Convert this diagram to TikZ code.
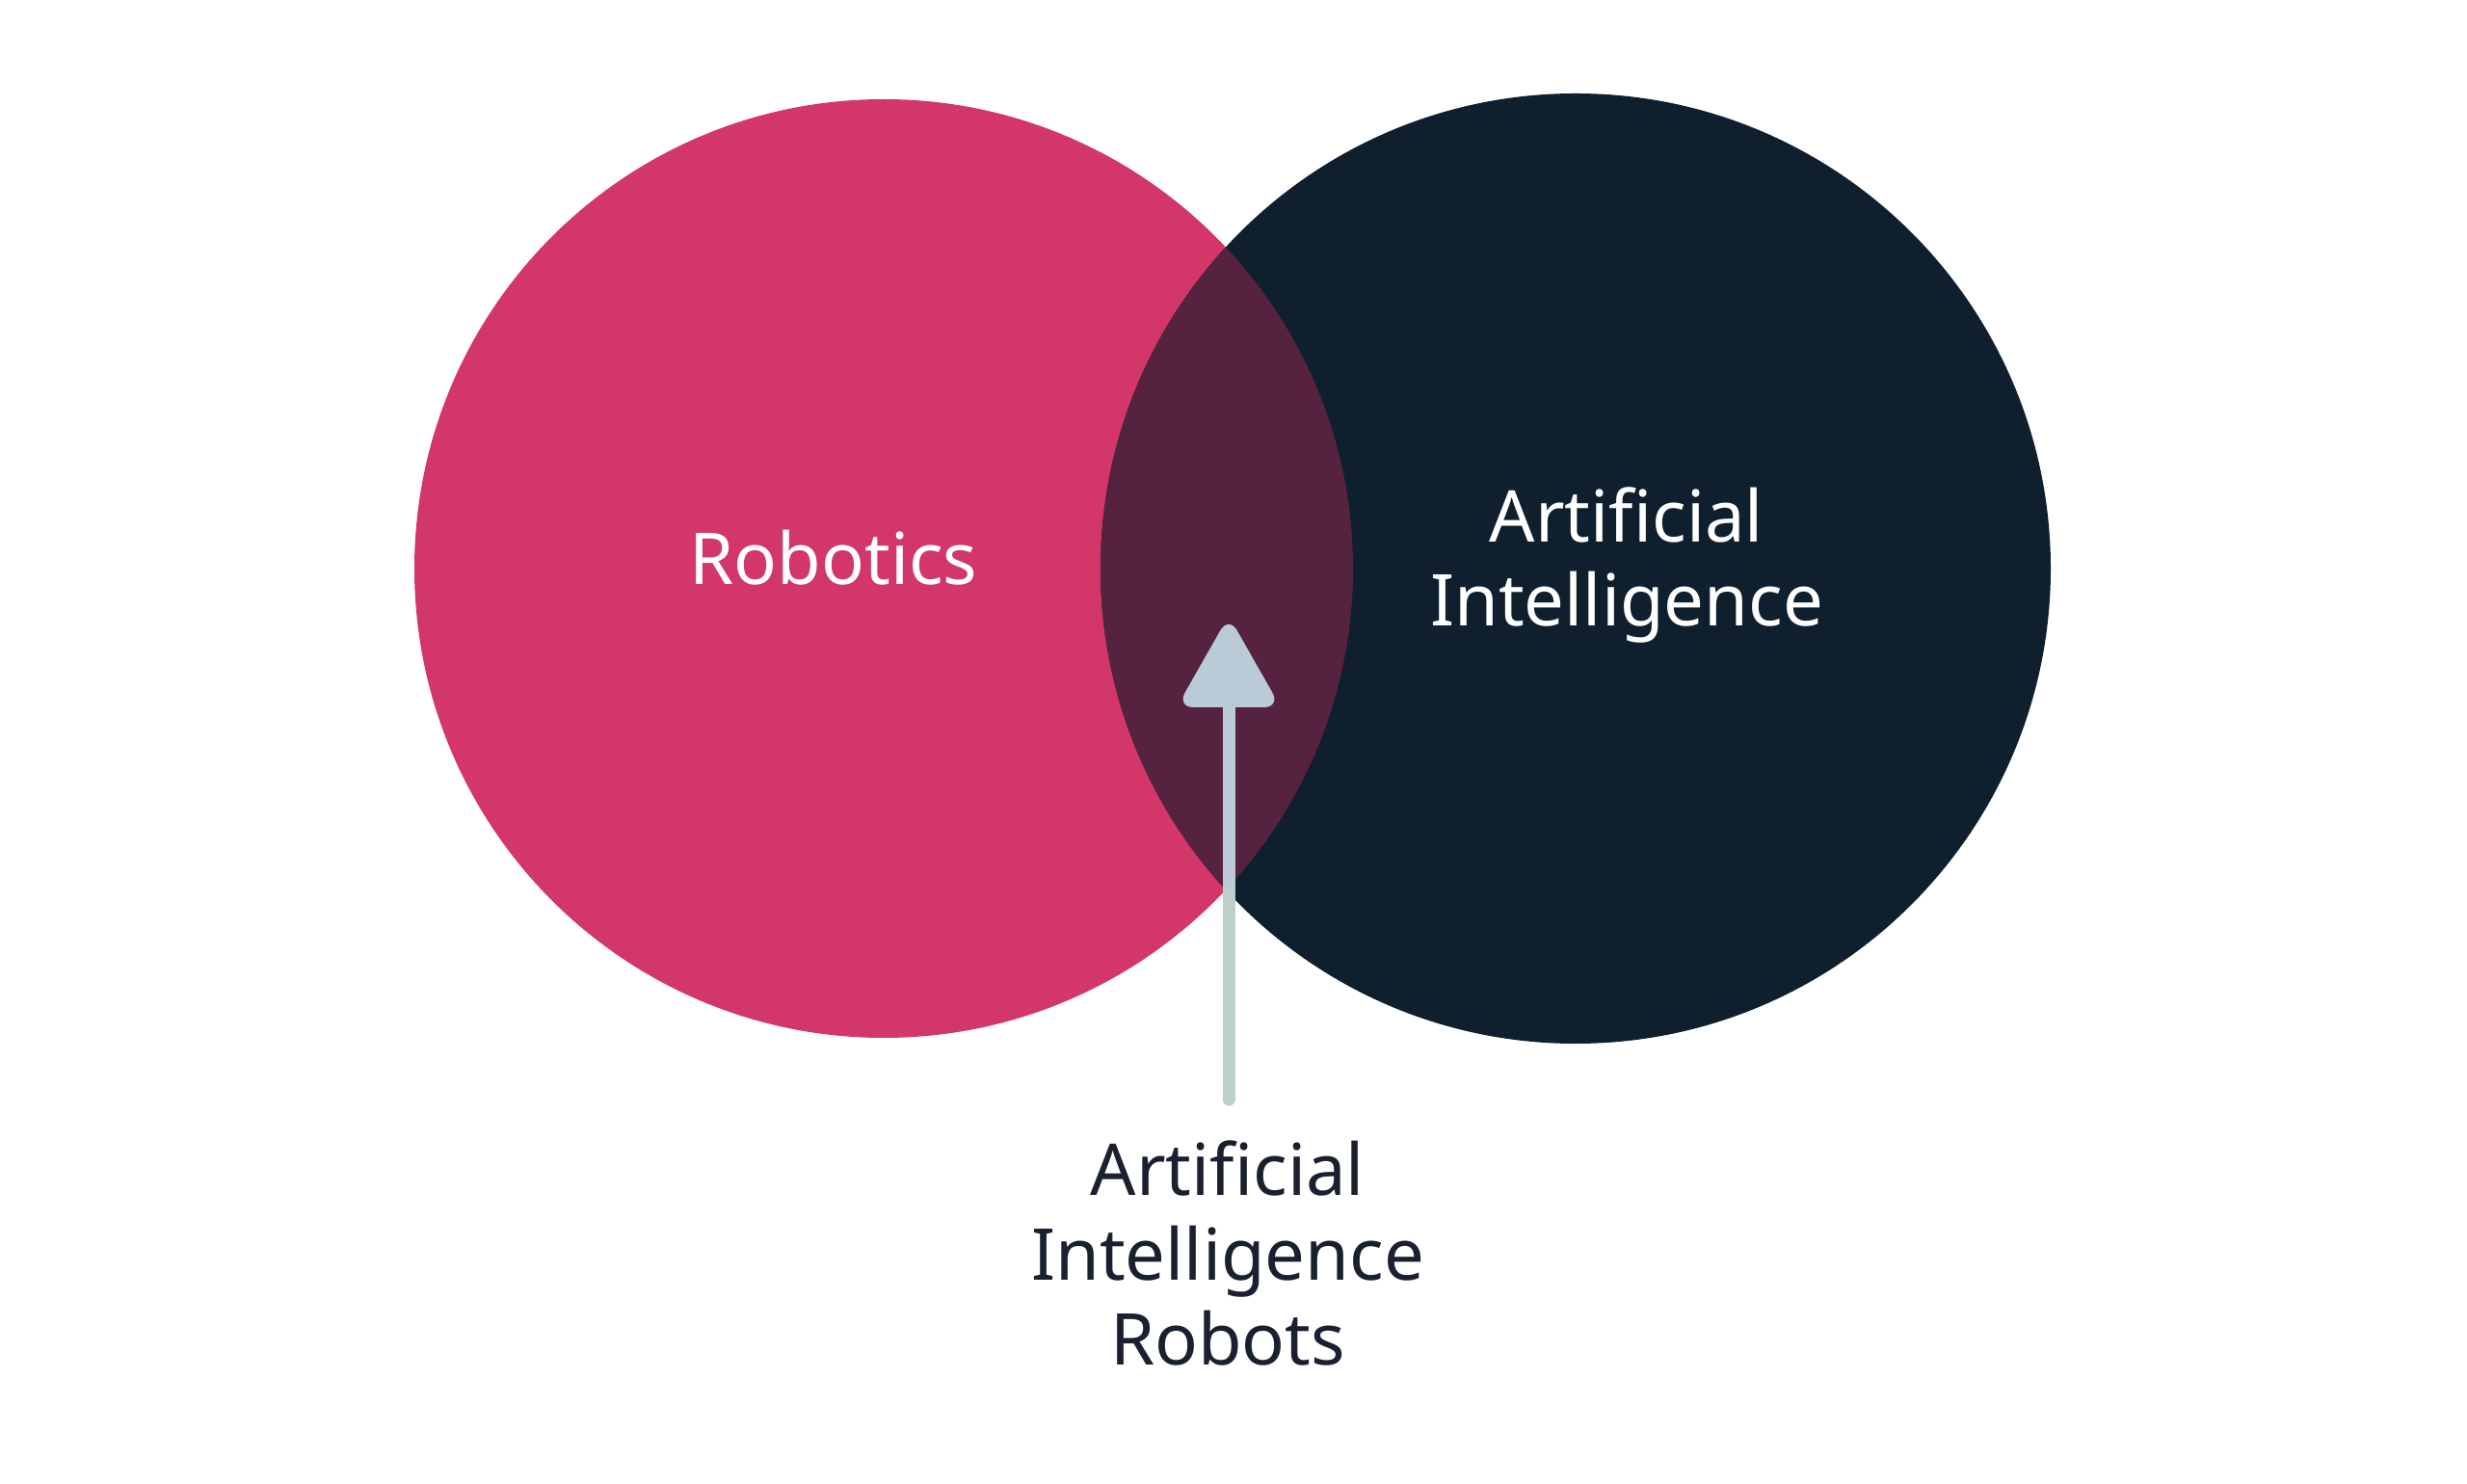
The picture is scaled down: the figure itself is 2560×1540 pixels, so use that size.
\documentclass[tikz,border=0pt]{standalone}
\usepackage{fontspec}
\setmainfont{Noto Sans}[Ligatures=CommonOff]
\definecolor{pinkc}{HTML}{D3376A}
\definecolor{navyc}{HTML}{0F1F2D}
\definecolor{overc}{HTML}{55233F}
\definecolor{arrowc}{HTML}{BACAD6}
\definecolor{linec}{HTML}{BCCFCA}
\definecolor{textdark}{HTML}{1B2030}
\tikzset{
  whitelbl/.style={text=white, inner sep=0pt, anchor=base, font=\fontsize{21.1pt}{25pt}\selectfont},
  darklbl/.style={text=textdark, inner sep=0pt, anchor=base, font=\fontsize{21.1pt}{25pt}\selectfont},
}
\begin{document}
\begin{tikzpicture}[x=0.01cm, y=-0.01cm]
\useasboundingbox (0,0) rectangle (2560,1540);
\fill[white] (0,0) rectangle (2560,1540);
% circles
\fill[pinkc] (917,590) circle[radius=487];
\fill[navyc] (1635,590) circle[radius=493];
\begin{scope}
  \clip (917,590) circle[radius=487];
  \fill[overc] (1635,590) circle[radius=493];
\end{scope}
% labels
\node[whitelbl] (rob) at (865,607) {Robotics};
\node[whitelbl] (ai1) at (1688,563) {Artificial};
\node[whitelbl] (ai2) at (1688,650) {Intelligence};
\node[darklbl] (b1) at (1274,1240) {Artificial};
\node[darklbl] (b2) at (1274,1328) {Intelligence};
\node[darklbl] (b3) at (1274,1416) {Robots};
% arrow
\coordinate (astart) at (1275,1141);
\coordinate (amid) at (1275,920);
\coordinate (amid2) at (1275,922);
\coordinate (abase) at (1275,725);
\coordinate (atip) at (1275,639);
\draw[linec, line width=0.13cm, line cap=round] (astart) -- (amid);
\draw[arrowc, line width=0.13cm] (amid2) -- (abase);
\fill[arrowc, rounded corners=5] (atip) -- (1329,734) -- (1221,734) -- cycle;
\end{tikzpicture}
\end{document}
